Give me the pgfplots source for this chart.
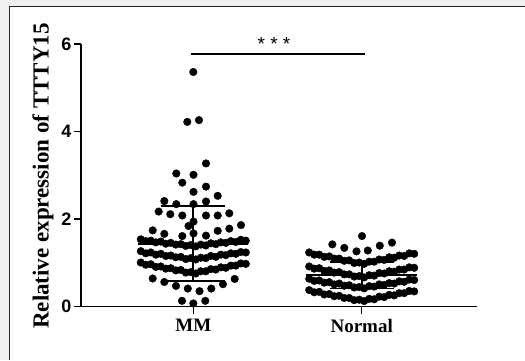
\documentclass[border=0pt]{standalone}
\usepackage{pgfplots}
\pgfplotsset{compat=1.18}
\usepackage{fontspec}
\setmainfont{Liberation Serif}
\newfontfamily\arialb{Liberation Sans}[UprightFont=* Bold]
\newfontfamily\arialr{Liberation Sans}
\newfontfamily\timesb{Liberation Serif}[UprightFont=* Bold]
\definecolor{bggray}{HTML}{F0F0F0}

\pgfplotstableread{
x y
193.3 5.36
187.3 4.22
199.0 4.26
206.0 3.27
176.3 3.04
193.5 3.01
182.3 2.83
206.0 2.74
193.5 2.62
217.7 2.53
164.3 2.41
176.3 2.34
193.5 2.34
206.0 2.40
158.7 2.17
170.3 2.11
182.3 2.08
206.0 2.08
217.7 2.08
229.3 2.13
193.5 1.94
188.5 1.84
152.7 1.74
241.0 1.86
229.3 1.78
217.7 1.73
164.3 1.66
182.3 1.61
206.0 1.62
193.5 1.67
140.8 1.535
145.8 1.495
150.8 1.505
155.8 1.465
160.8 1.485
165.8 1.435
170.8 1.455
175.8 1.415
180.8 1.425
185.8 1.385
190.8 1.405
195.8 1.375
200.8 1.415
205.8 1.395
210.8 1.445
215.8 1.425
220.8 1.465
225.8 1.455
230.8 1.495
235.8 1.475
240.8 1.525
245.8 1.505
140.8 1.265
145.8 1.215
150.8 1.235
155.8 1.185
160.8 1.205
165.8 1.155
170.8 1.165
175.8 1.125
180.8 1.135
185.8 1.085
190.8 1.105
195.8 1.075
200.8 1.115
205.8 1.105
210.8 1.155
215.8 1.135
220.8 1.185
225.8 1.175
230.8 1.215
235.8 1.205
240.8 1.245
245.8 1.235
140.8 1.005
145.8 0.955
150.8 0.965
155.8 0.905
160.8 0.915
165.8 0.865
170.8 0.875
175.8 0.825
180.8 0.835
185.8 0.775
190.8 0.785
195.8 0.755
200.8 0.805
205.8 0.805
210.8 0.855
215.8 0.845
220.8 0.895
225.8 0.885
230.8 0.935
235.8 0.935
240.8 0.985
245.8 0.975
152.7 0.64
164.3 0.56
176.0 0.47
187.8 0.41
199.5 0.35
211.3 0.41
223.0 0.51
234.7 0.63
182.0 0.13
193.3 0.07
205.3 0.13
}\mmdata

\pgfplotstableread{
x y
332.3 1.42
344.3 1.34
356.5 1.26
367.8 1.28
379.8 1.39
392.0 1.46
362.0 1.61
309.2 1.235
314.2 1.185
319.2 1.185
324.2 1.135
329.2 1.145
334.2 1.095
339.2 1.095
344.2 1.045
349.2 1.055
354.2 0.995
359.2 1.005
364.2 0.975
369.2 1.025
374.2 1.025
379.2 1.075
384.2 1.065
389.2 1.125
394.2 1.115
399.2 1.165
404.2 1.155
409.2 1.215
414.2 1.205
309.2 0.915
314.2 0.865
319.2 0.875
324.2 0.815
329.2 0.825
334.2 0.775
339.2 0.785
344.2 0.735
349.2 0.735
354.2 0.685
359.2 0.695
364.2 0.665
369.2 0.715
374.2 0.705
379.2 0.765
384.2 0.755
389.2 0.805
394.2 0.795
399.2 0.845
404.2 0.845
409.2 0.895
414.2 0.885
309.2 0.635
314.2 0.585
319.2 0.595
324.2 0.545
329.2 0.555
334.2 0.505
339.2 0.525
344.2 0.475
349.2 0.485
354.2 0.435
359.2 0.445
364.2 0.415
369.2 0.465
374.2 0.455
379.2 0.505
384.2 0.495
389.2 0.535
394.2 0.525
399.2 0.575
404.2 0.565
409.2 0.615
414.2 0.605
309.2 0.375
314.2 0.325
319.2 0.335
324.2 0.275
329.2 0.285
334.2 0.235
339.2 0.245
344.2 0.195
349.2 0.195
354.2 0.145
359.2 0.155
364.2 0.125
369.2 0.175
374.2 0.165
379.2 0.225
384.2 0.215
389.2 0.265
394.2 0.255
399.2 0.305
404.2 0.305
409.2 0.355
414.2 0.345
}\normaldata

\begin{document}
\begin{tikzpicture}
\useasboundingbox (0pt,0pt) rectangle (525pt,360pt);
\fill[bggray] (0pt,0pt) rectangle (525pt,360pt);
\fill[white] (9.5pt,0pt) rectangle (525pt,353.5pt);
\draw[line width=1.2pt, black!85] (9.5pt,0pt) -- (9.5pt,353.5pt) -- (525pt,353.5pt);
\begin{axis}[
  at={(81pt,53.5pt)}, anchor=south west,
  scale only axis, width=396pt, height=262.5pt,
  xmin=81, xmax=477, ymin=0, ymax=6,
  axis lines=left,
  axis line style={-, line width=1.8pt, black},
  xtick={193.3,361.7},
  xticklabels={{\timesb\fontsize{19}{22}\selectfont MM},{\timesb\fontsize{19}{22}\selectfont Normal}},
  ytick={0,2,4,6},
  yticklabels={{\arialb\fontsize{18}{20}\selectfont 0},{\arialb\fontsize{18}{20}\selectfont 2},{\arialb\fontsize{18}{20}\selectfont 4},{\arialb\fontsize{18}{20}\selectfont 6}},
  tick align=outside,
  major tick length=7pt,
  tick style={line width=1.5pt, black},
  xticklabel style={yshift=-2pt},
  yticklabel style={xshift=1pt},
  clip=false,
]
\addplot[only marks, mark=*, mark size=3.8pt, mark options={draw=black, fill=black}] table {\mmdata};
\addplot[only marks, mark=*, mark size=3.8pt, mark options={draw=black, fill=black}] table {\normaldata};
% mean and SD, MM
\addplot[black, line width=2pt] coordinates {(138.3,1.43) (248.3,1.43)};
\addplot[black, line width=1.8pt] coordinates {(193.3,0.58) (193.3,2.30)};
\addplot[black, line width=1.8pt] coordinates {(161.3,2.30) (225.3,2.30)};
\addplot[black, line width=1.8pt] coordinates {(161.3,0.58) (225.3,0.58)};
% mean and SD, Normal
\addplot[black, line width=2pt] coordinates {(306.0,0.71) (417.3,0.71)};
\addplot[black, line width=1.8pt] coordinates {(361.7,0.41) (361.7,1.01)};
\addplot[black, line width=1.8pt] coordinates {(329.7,1.01) (393.7,1.01)};
\addplot[black, line width=1.8pt] coordinates {(329.7,0.41) (393.7,0.41)};
% significance
\addplot[black, line width=2pt] coordinates {(190.7,5.77) (365.3,5.77)};
\node[font=\arialr\fontsize{19}{20}\selectfont] at (axis cs:274,6.0) {* * *};
\end{axis}
\node[rotate=90, font=\timesb\fontsize{23}{26}\selectfont] at (43pt,184pt) {Relative expression of TTTY15};
\end{tikzpicture}
\end{document}
